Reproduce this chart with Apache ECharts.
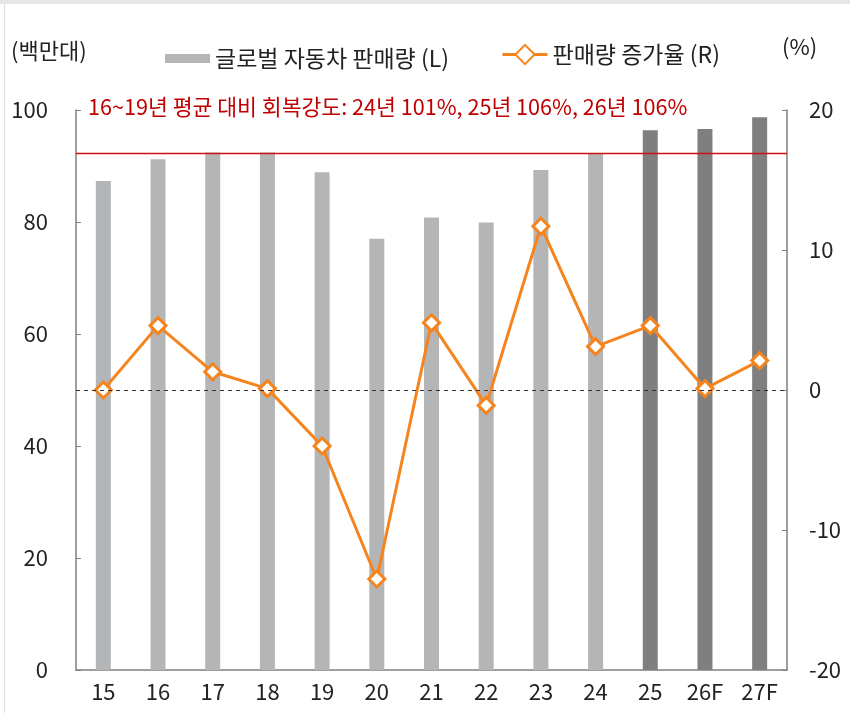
<!DOCTYPE html>
<html>
<head>
<meta charset="utf-8">
<script src="https://cdn.jsdelivr.net/npm/echarts@6/dist/echarts.min.js"></script>
<style>
  html, body { margin: 0; padding: 0; background: #fff; }
  #chart { width: 850px; height: 713px; }
</style>
</head>
<body>
<div id="chart"></div>
<script>
// 연도 (F = 전망)
var years = ['15', '16', '17', '18', '19', '20', '21', '22', '23', '24', '25', '26F', '27F'];
// 글로벌 자동차 판매량 (백만대)
var sales = [87.3, 91.2, 92.4, 92.4, 88.9, 77.0, 80.8, 79.9, 89.3, 92.3, 96.4, 96.6, 98.7];
// 판매량 증가율 (%)
var growth = [0.0, 4.6, 1.3, 0.1, -4.0, -13.5, 4.8, -1.1, 11.7, 3.1, 4.6, 0.1, 2.1];
// 16~19년 평균 수준
var avgLevel = 92.3;
var forecastFrom = 10; // 25년부터 진한 회색

var FONT = '"Noto Sans CJK KR", "Noto Sans", sans-serif';

var chart = echarts.init(document.getElementById('chart'));

var option = {
    backgroundColor: '#fff',
    textStyle: {fontFamily: FONT},
    animation: false,
    graphic: [
        {type: 'rect', shape: {x: 0, y: 0, width: 850, height: 4}, style: {fill: '#e6e6e6'}},
        {type: 'rect', shape: {x: 4, y: 4, width: 1, height: 709}, style: {fill: '#e0e0e0'}},
        {type: 'text', left: 11, top: 40, style: {text: '(백만대)', font: '22px ' + FONT, fill: '#222'}},
        {type: 'text', left: 782, top: 36, style: {text: '(%)', font: '22px ' + FONT, fill: '#222'}},
        {
            type: 'text', left: 88, top: 96,
            style: {text: '16~19년 평균 대비 회복강도: 24년 101%, 25년 106%, 26년 106%', font: '21.6px ' + FONT, fill: '#c00000'}
        }
    ],
    legend: [
        {
            data: [{name: '글로벌 자동차 판매량 (L)', icon: 'rect'}],
            left: 160, top: 42,
            itemWidth: 45, itemHeight: 9, itemGap: 8,
            textStyle: {fontSize: 23, color: '#222', fontFamily: FONT}
        },
        {
            data: [{name: '판매량 증가율 (R)', lineStyle: {width: 3}}],
            left: 496, top: 38,
            itemWidth: 45, itemHeight: 24, itemGap: 7,
            textStyle: {fontSize: 23, color: '#222', fontFamily: FONT}
        }
    ],
    grid: {left: 76, right: 63, top: 110, bottom: 43},
    xAxis: {
        type: 'category',
        data: years,
        axisLine: {lineStyle: {color: '#7f7f7f', width: 1.5}},
        axisTick: {inside: true, length: 5, lineStyle: {color: '#7f7f7f'}},
        axisLabel: {fontSize: 22, color: '#222', margin: 11}
    },
    yAxis: [
        {
            type: 'value', min: 0, max: 100, interval: 20,
            axisLine: {show: true, lineStyle: {color: '#7f7f7f', width: 1.5}},
            axisTick: {show: true, inside: true, length: 5, lineStyle: {color: '#7f7f7f'}},
            splitLine: {show: false},
            axisLabel: {fontSize: 22, color: '#222', margin: 28}
        },
        {
            type: 'value', min: -20, max: 20, interval: 10,
            axisLine: {show: true, lineStyle: {color: '#7f7f7f', width: 1.5}},
            axisTick: {show: true, inside: true, length: 5, lineStyle: {color: '#7f7f7f'}},
            splitLine: {show: false},
            axisLabel: {fontSize: 22, color: '#222', margin: 22}
        }
    ],
    series: [
        {
            name: '글로벌 자동차 판매량 (L)',
            type: 'bar',
            yAxisIndex: 0,
            barWidth: 15,
            itemStyle: {color: '#b4b5b7'},
            data: sales.map(function (v, i) {
                return i >= forecastFrom ? {value: v, itemStyle: {color: '#7f7f7f'}} : v;
            }),
            markLine: {
                silent: true,
                symbol: 'none',
                label: {show: false},
                data: [{yAxis: avgLevel, lineStyle: {color: '#d01010', type: 'solid', width: 1.3}}]
            },
            z: 1
        },
        {
            name: '판매량 증가율 (R)',
            type: 'line',
            yAxisIndex: 1,
            data: growth,
            symbol: 'diamond',
            symbolSize: 16,
            lineStyle: {color: '#f5841f', width: 3},
            itemStyle: {color: '#fff', borderColor: '#f5841f', borderWidth: 3},
            markLine: {
                silent: true,
                symbol: 'none',
                label: {show: false},
                data: [{yAxis: 0, lineStyle: {color: '#333', type: [4, 4], width: 1}}]
            },
            z: 3
        }
    ]
};

chart.setOption(option);
</script>
</body>
</html>
